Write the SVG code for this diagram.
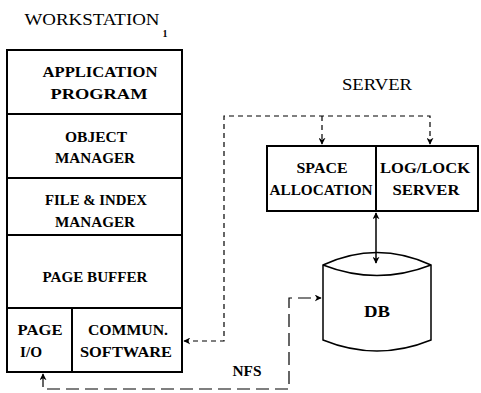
<svg xmlns="http://www.w3.org/2000/svg" width="481" height="393" viewBox="0 0 481 393">
<style>
.box{fill:#fff;stroke:#000;stroke-width:2}
.t{font-family:'Liberation Serif','Times New Roman','DejaVu Serif',serif;font-size:14px;font-weight:bold;fill:#000;text-anchor:middle}
.h{font-family:'Liberation Serif','Times New Roman','DejaVu Serif',serif;font-size:17px;fill:#000;text-anchor:middle}
.d{fill:none;stroke:#000;stroke-width:1.2;stroke-dasharray:5,4}
.n{fill:none;stroke:#000;stroke-width:1.2;stroke-dasharray:13,6}
.s{fill:none;stroke:#000;stroke-width:1.5}
</style>
<defs>
<marker id="ah" viewBox="0 0 10 10" refX="9" refY="5" markerWidth="7" markerHeight="7" orient="auto-start-reverse" markerUnits="userSpaceOnUse">
<path d="M0,0 L10,5 L0,10 L3,5 Z" fill="#000"/>
</marker>
</defs>
<g id="labels">
<text class="h" x="92" y="25" textLength="135" lengthAdjust="spacingAndGlyphs">WORKSTATION</text>
<text class="t" x="165" y="37" style="font-size:10px">1</text>
<text class="h" x="377" y="90" textLength="70" lengthAdjust="spacingAndGlyphs">SERVER</text>
</g>
<g id="app">
<rect class="box" x="7" y="50" width="175" height="64"/>
<text class="t" x="100" y="77" textLength="115" lengthAdjust="spacingAndGlyphs">APPLICATION</text>
<text class="t" x="99" y="99" textLength="97" lengthAdjust="spacingAndGlyphs">PROGRAM</text>
</g>
<g id="obj">
<rect class="box" x="7" y="114" width="175" height="64"/>
<text class="t" x="96" y="142" textLength="62" lengthAdjust="spacingAndGlyphs">OBJECT</text>
<text class="t" x="95" y="163" textLength="80" lengthAdjust="spacingAndGlyphs">MANAGER</text>
</g>
<g id="file">
<rect class="box" x="7" y="178" width="175" height="57"/>
<text class="t" x="96" y="205" textLength="102" lengthAdjust="spacingAndGlyphs">FILE &amp; INDEX</text>
<text class="t" x="95" y="227" textLength="80" lengthAdjust="spacingAndGlyphs">MANAGER</text>
</g>
<g id="buffer">
<rect class="box" x="7" y="235" width="175" height="73"/>
<text class="t" x="95" y="282" textLength="105" lengthAdjust="spacingAndGlyphs">PAGE BUFFER</text>
</g>
<g id="pageio">
<rect class="box" x="7" y="308" width="65" height="64"/>
<text class="t" x="40" y="335" textLength="45" lengthAdjust="spacingAndGlyphs">PAGE</text>
<text class="t" x="31" y="357" textLength="22" lengthAdjust="spacingAndGlyphs">I/O</text>
</g>
<g id="commun">
<rect class="box" x="72" y="308" width="110" height="64"/>
<text class="t" x="128" y="335" textLength="80" lengthAdjust="spacingAndGlyphs">COMMUN.</text>
<text class="t" x="126" y="357" textLength="92" lengthAdjust="spacingAndGlyphs">SOFTWARE</text>
</g>
<g id="space">
<rect class="box" x="267" y="146" width="109" height="65"/>
<text class="t" x="322" y="173" textLength="51" lengthAdjust="spacingAndGlyphs">SPACE</text>
<text class="t" x="321" y="195" textLength="103" lengthAdjust="spacingAndGlyphs">ALLOCATION</text>
</g>
<g id="loglock">
<rect class="box" x="376" y="146" width="102" height="65"/>
<text class="t" x="425" y="173" textLength="90" lengthAdjust="spacingAndGlyphs">LOG/LOCK</text>
<text class="t" x="426" y="195" textLength="67" lengthAdjust="spacingAndGlyphs">SERVER</text>
</g>
<g id="db">
<path d="M323,265 Q377,240 431,265 L431,340 Q377,362 323,340 Z" fill="#fff" stroke="#000" stroke-width="1.5"/>
<path d="M323,265 Q377,286 431,265" fill="none" stroke="#000" stroke-width="1.5"/>
<text class="t" x="377" y="317" style="font-size:16px" textLength="26" lengthAdjust="spacingAndGlyphs">DB</text>
</g>
<g id="connectors">
<polyline class="d" points="184,341 224,341 224,116 430,116 430,144" marker-start="url(#ah)" marker-end="url(#ah)"/>
<polyline class="d" points="322,116 322,144" marker-end="url(#ah)"/>
<line class="s" x1="376" y1="213" x2="376" y2="263" marker-start="url(#ah)" marker-end="url(#ah)"/>
<polyline class="n" points="43,374 43,389 289,389 289,298 321,298" marker-start="url(#ah)" marker-end="url(#ah)"/>
<text class="t" x="247" y="376" textLength="29" lengthAdjust="spacingAndGlyphs">NFS</text>
</g>
</svg>
